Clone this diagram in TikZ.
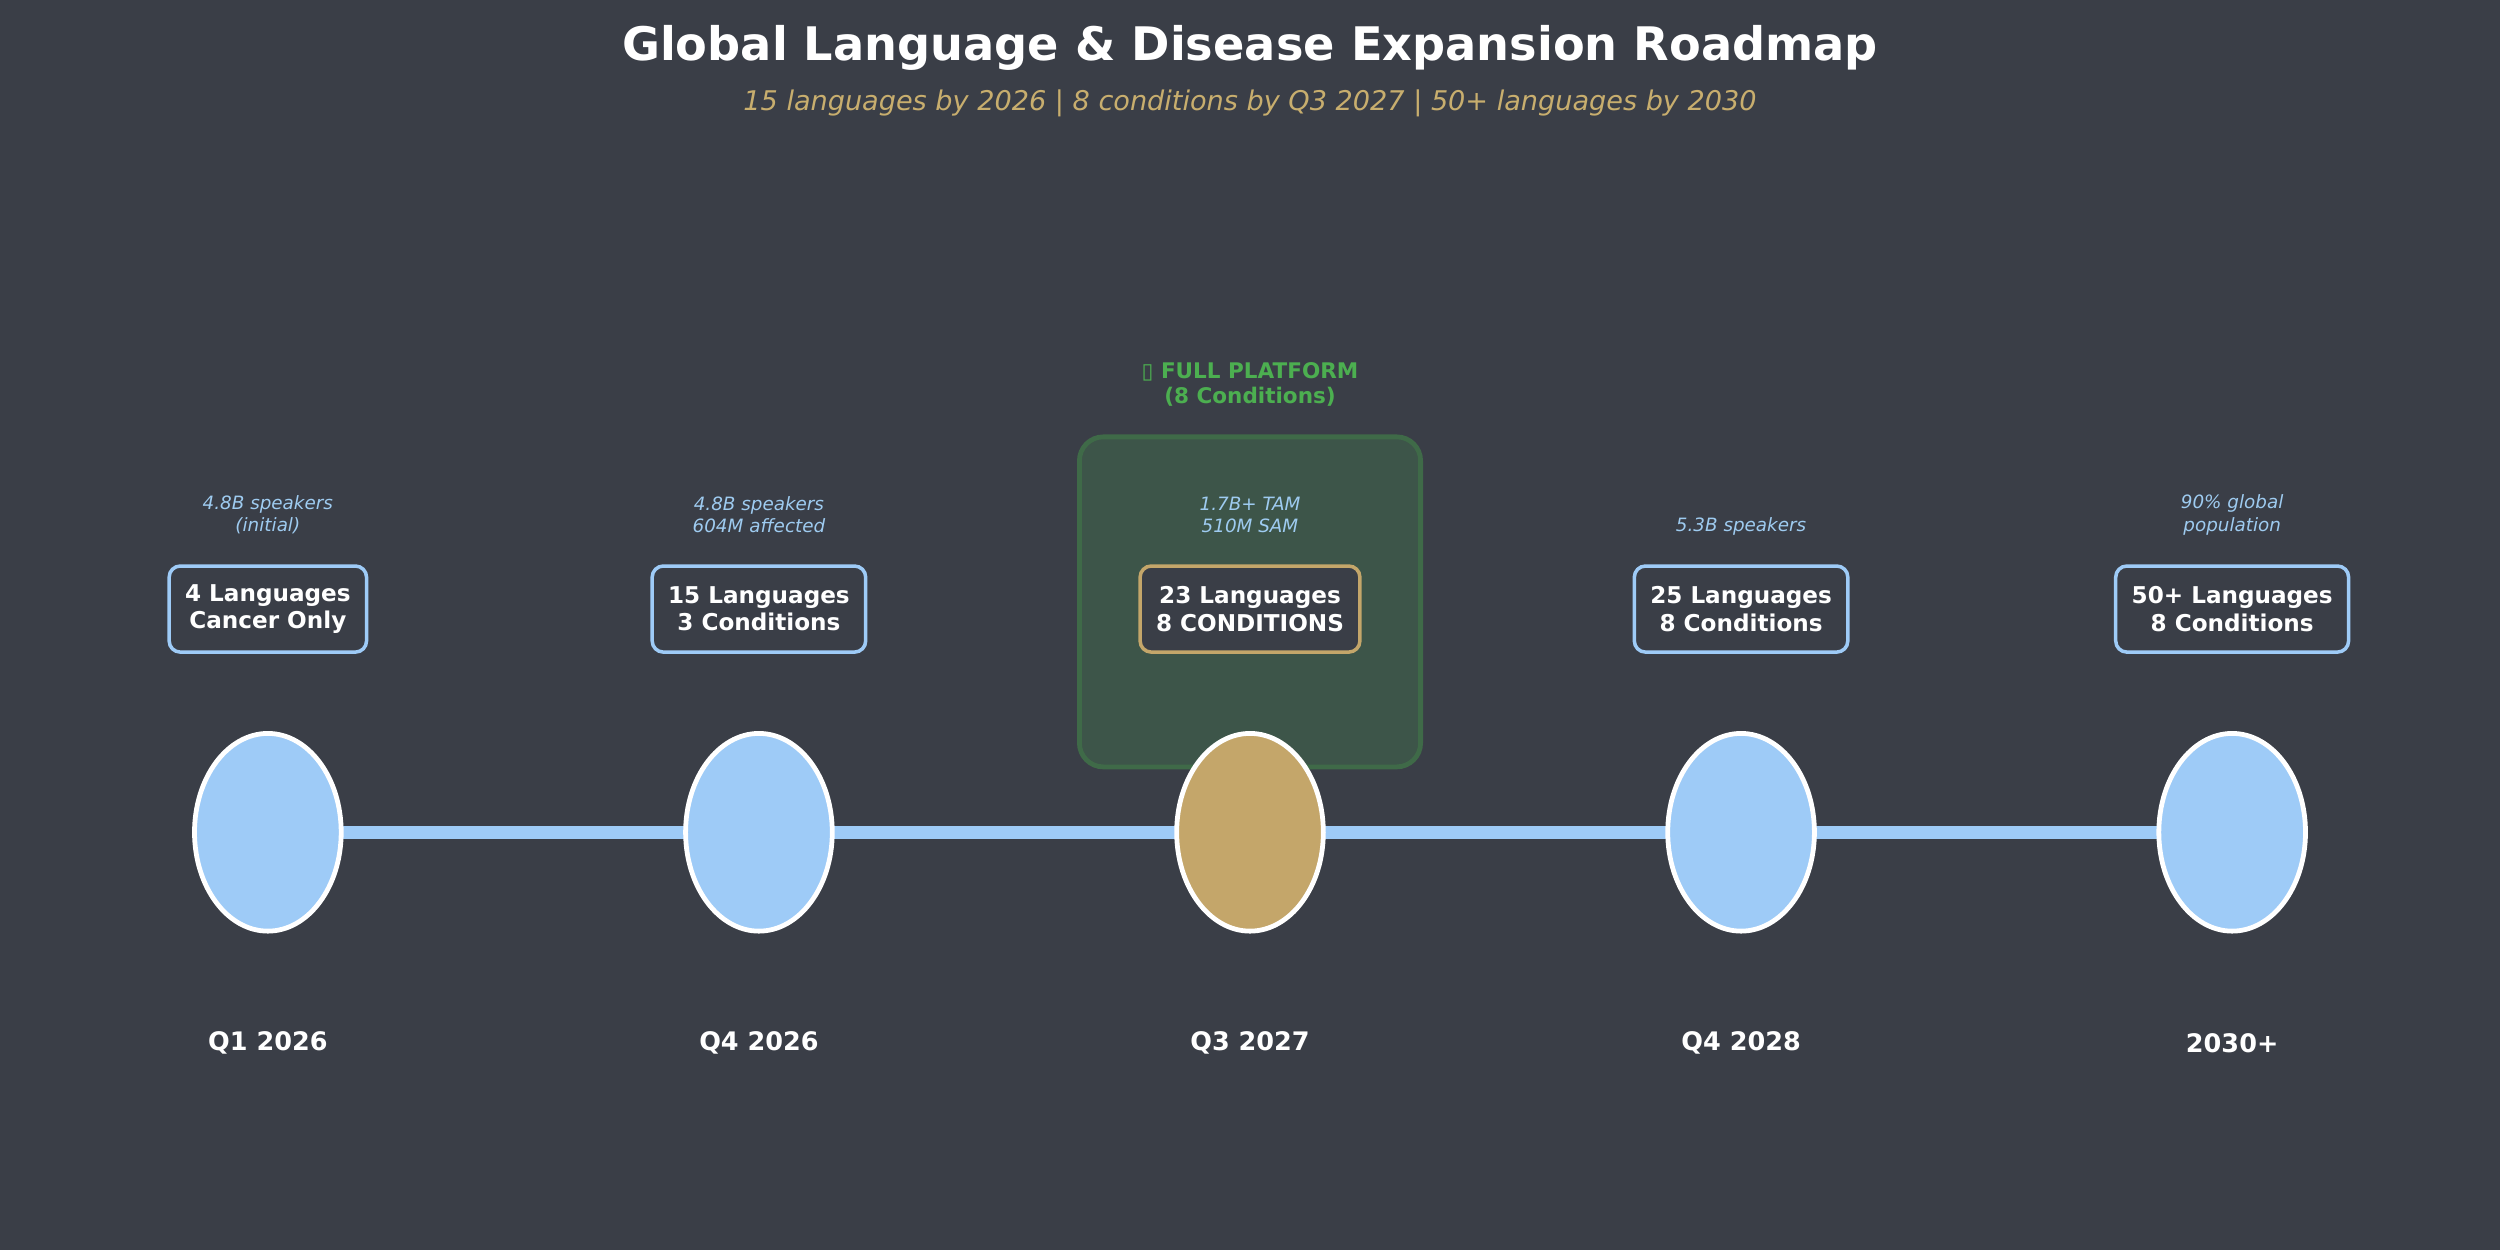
\documentclass[tikz,border=0pt]{standalone}
\usepackage{fontspec}
\usetikzlibrary{shapes.geometric}
\setmainfont{DejaVu Sans}
\newfontfamily\symf{DejaVu Sans}
\definecolor{bg}{HTML}{3A3E47}
\definecolor{lb}{HTML}{9ECBF7}
\definecolor{gold}{HTML}{C4A66A}
\definecolor{gt}{HTML}{4CAF50}
\definecolor{gfill}{HTML}{3D5549}
\definecolor{gdraw}{HTML}{3F6A48}
\definecolor{sub}{HTML}{C8AE6E}
\definecolor{note}{HTML}{9ECBF0}
\begin{document}
\begin{tikzpicture}[x=1pt,y=-1pt,
  mile/.style={ellipse,draw=white,line width=3pt,minimum width=92pt,minimum height=124pt,inner sep=0pt},
  lbox/.style={draw=lb,line width=2.2pt,rounded corners=7pt,fill=bg,text=white,font=\bfseries\fontsize{14.5}{17}\selectfont,align=center,minimum height=54pt,inner xsep=10pt},
  note/.style={text=note,font=\itshape\fontsize{11.5}{14}\selectfont,align=center},
  qlab/.style={text=white,font=\bfseries\fontsize{16}{19}\selectfont}]
\fill[bg] (0,0) rectangle (1568,784);
\useasboundingbox (0,0) rectangle (1568,784);
\node[text=white,font=\bfseries\fontsize{29}{34}\selectfont] (title) at (784,30) {Global Language \& Disease Expansion Roadmap};
\node[text=sub,font=\itshape\fontsize{17}{20}\selectfont] (subtitle) at (784,65) {15 languages by 2026 | 8 conditions by Q3 2027 | 50+ languages by 2030};
\draw[fill=gfill,draw=gdraw,line width=3pt,rounded corners=15pt] (677,274) rectangle (891,481);
\node[text=gt,font=\bfseries\fontsize{13.5}{16}\selectfont,align=center] (full) at (784,241) {{\symf ▯} FULL PLATFORM\\(8 Conditions)};
\draw[lb,line width=8pt] (168,522) -- (1400,522);
\foreach \x/\c/\n in {168/lb/m1,476/lb/m2,784/gold/m3,1092/lb/m4,1400/lb/m5}{
  \node[mile,fill=\c] (\n) at (\x,522) {};
}
\node[lbox] (b1) at (168,382) {4 Languages\\Cancer Only};
\node[lbox] (b2) at (476,382) {15 Languages\\3 Conditions};
\node[lbox,draw=gold] (b3) at (784,382) {23 Languages\\8 CONDITIONS};
\node[lbox] (b4) at (1092,382) {25 Languages\\8 Conditions};
\node[lbox] (b5) at (1400,382) {50+ Languages\\8 Conditions};
\node[note] (n1) at (168,323) {4.8B speakers\\(initial)};
\node[note] (n2) at (476,323) {4.8B speakers\\604M affected};
\node[note] (n3) at (784,323) {1.7B+ TAM\\510M SAM};
\node[note] (n4) at (1092,330) {5.3B speakers};
\node[note] (n5) at (1400,323) {90\% global\\population};
\node[qlab] (q1) at (168,654) {Q1 2026};
\node[qlab] (q2) at (476,654) {Q4 2026};
\node[qlab] (q3) at (784,654) {Q3 2027};
\node[qlab] (q4) at (1092,654) {Q4 2028};
\node[qlab] (q5) at (1400,654) {2030+};
\end{tikzpicture}
\end{document}
